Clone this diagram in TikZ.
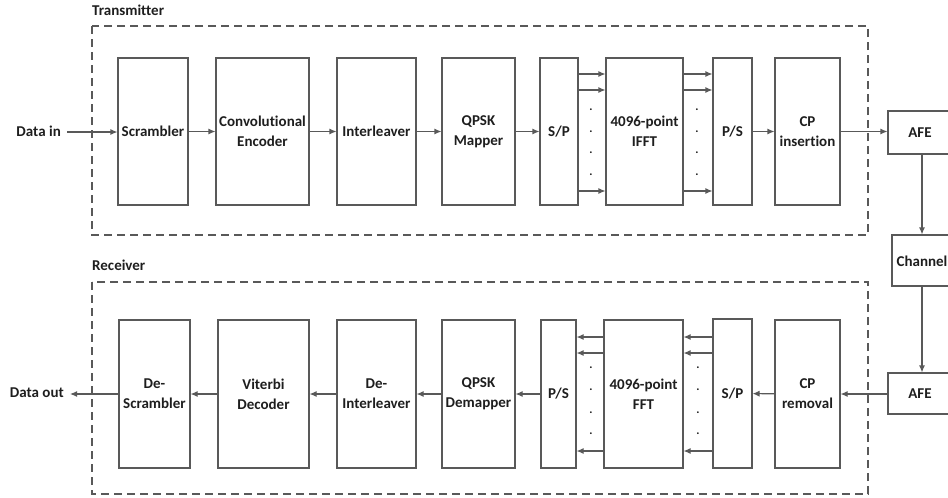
\documentclass[tikz,border=0pt]{standalone}
\usepackage{fontspec}
\setmainfont[Ligatures=NoCommon]{Carlito}
\usetikzlibrary{arrows.meta}
\definecolor{ln}{HTML}{595959}
\definecolor{tx}{HTML}{1E1E1E}
\begin{document}
\begin{tikzpicture}[x=1pt,y=1pt,
  every node/.style={text=tx,font=\fontsize{15}{20}\selectfont\bfseries},
  blk/.style={draw=ln,line width=1.1pt,align=center,inner sep=0pt},
  arr/.style={draw=ln,line width=1.1pt,-{Latex[length=7pt,width=6pt]}},
  grp/.style={draw=ln,line width=1.3pt,dash pattern=on 8pt off 5pt},
  lbl/.style={inner sep=0pt,anchor=west},
  dotn/.style={inner sep=0pt,font=\fontsize{12}{12}\selectfont\bfseries}]
\useasboundingbox (0,0) rectangle (948,-498);
\clip (0,0) rectangle (948,-498);
% groups
\draw[grp] (92,-26) rectangle (868,-235);
\draw[grp] (92,-282) rectangle (868,-494);
\node[lbl] (ttx) at (92,-10) {Transmitter};
\node[lbl] (trx) at (92,-265) {Receiver};
% transmitter row
\node[blk,minimum width=70pt,minimum height=147pt] (scr) at (153,-131.5) {Scrambler};
\node[blk,minimum width=93pt,minimum height=147pt] (enc) at (262.5,-131.5) {Convolutional\\Encoder};
\node[blk,minimum width=79pt,minimum height=147pt] (intl) at (376.5,-131.5) {Interleaver};
\node[blk,minimum width=73pt,minimum height=147pt] (map) at (478.5,-131.5) {QPSK\\Mapper};
\node[blk,minimum width=38pt,minimum height=147pt] (sp) at (559,-131.5) {S/P};
\node[blk,minimum width=77pt,minimum height=147pt] (ifft) at (644.5,-131.5) {4096-point\\IFFT};
\node[blk,minimum width=39pt,minimum height=147pt] (ps) at (732.5,-131.5) {P/S};
\node[blk,minimum width=65pt,minimum height=147pt] (cpi) at (807.5,-131.5) {CP\\insertion};
\node[blk,minimum width=68pt,minimum height=43pt] (afe1) at (922,-132.5) {};
\node (afe1t) at (920,-132.5) {AFE};
\node[blk,minimum width=60pt,minimum height=51pt] (chan) at (922,-260.5) {};
\node (chant) at (922,-261) {Channel};
\node[blk,minimum width=68pt,minimum height=41pt] (afe2) at (922,-393.5) {};
\node (afe2t) at (920,-393.5) {AFE};
\node[inner sep=0pt,anchor=east] (din) at (61,-131) {Data in};
% receiver row
\node[blk,minimum width=71pt,minimum height=148pt] (dscr) at (154.5,-394) {De-\\Scrambler};
\node[blk,minimum width=91pt,minimum height=148pt] (vit) at (263.5,-394) {Viterbi\\Decoder};
\node[blk,minimum width=79pt,minimum height=148pt] (dint) at (376.5,-394) {De-\\Interleaver};
\node[blk,minimum width=73pt,minimum height=148pt] (dmap) at (478.5,-394) {QPSK\\Demapper};
\node[blk,minimum width=35pt,minimum height=148pt] (ps2) at (558.5,-394) {P/S};
\node[blk,minimum width=79pt,minimum height=148pt] (fft) at (643.5,-394) {4096-point\\FFT};
\node[blk,minimum width=39pt,minimum height=149pt] (sp2) at (732.5,-393.5) {S/P};
\node[blk,minimum width=65pt,minimum height=148pt] (cpr) at (807.5,-394) {CP\\removal};
\node[inner sep=0pt,anchor=east] (dout) at (64,-393) {Data out};
\coordinate (doute) at (70,-394);
\coordinate (dine) at (67,-132);
% transmitter connectors
\draw[arr] (dine) -- (scr.west |- dine);
\draw[arr] (scr) -- (enc);
\draw[arr] (enc) -- (intl);
\draw[arr] (intl) -- (map);
\draw[arr] (map) -- (sp);
\foreach \yy in {74,90,191}{
  \draw[arr] (sp.east |- 0,-\yy) -- (ifft.west |- 0,-\yy);
  \draw[arr] (ifft.east |- 0,-\yy) -- (ps.west |- 0,-\yy);
}
\foreach \yy in {110,132,153,175}{
  \node[dotn] at (591,-\yy) {.};
  \node[dotn] at (697,-\yy) {.};
}
\draw[arr] (ps) -- (cpi);
\draw[arr] (cpi.east) -- (afe1.west |- cpi.east);
\draw[arr] (afe1.south) -- (chan.north);
\draw[arr] (chan.south) -- (afe2.north);
% receiver connectors
\draw[arr] (afe2.west |- cpr.east) -- (cpr.east);
\draw[arr] (cpr) -- (sp2);
\foreach \yy in {337,353,451}{
  \draw[arr] (sp2.west |- 0,-\yy) -- (fft.east |- 0,-\yy);
  \draw[arr] (fft.west |- 0,-\yy) -- (ps2.east |- 0,-\yy);
}
\foreach \yy in {368,390,413,434}{
  \node[dotn] at (591,-\yy) {.};
  \node[dotn] at (698,-\yy) {.};
}
\draw[arr] (ps2) -- (dmap);
\draw[arr] (dmap) -- (dint);
\draw[arr] (dint) -- (vit);
\draw[arr] (vit) -- (dscr);
\draw[arr] (dscr.west) -- (doute);
\end{tikzpicture}
\end{document}
